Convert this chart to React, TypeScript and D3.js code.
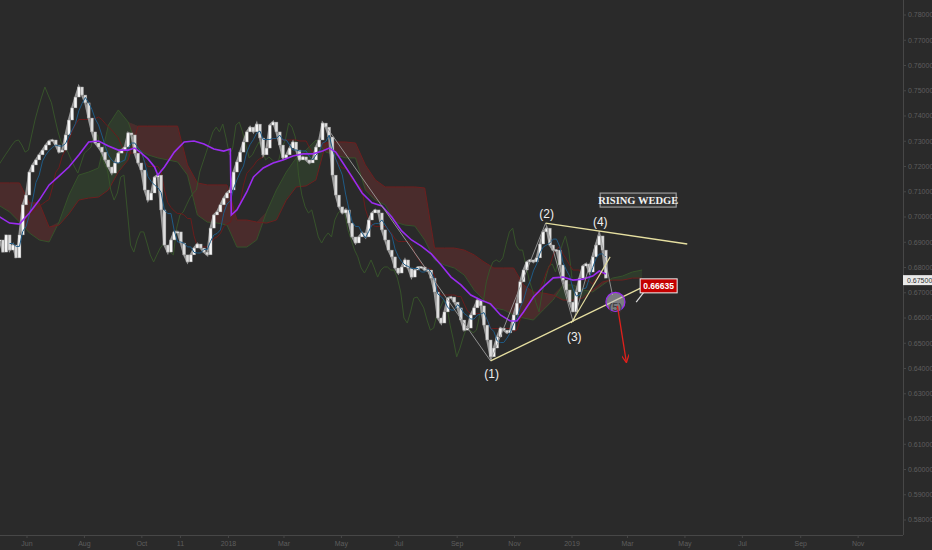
import * as d3 from "d3";

// bars every 3.5 days starting early May 2017
const barStart = new Date(2017, 4, 3);
const barHours = 84;

const closes = [
  0.6909, 0.6861, 0.6929, 0.6869, 0.6889, 0.6838, 0.6929, 0.7048, 0.7087, 0.7178,
  0.7206, 0.7226, 0.7246, 0.7265, 0.7285, 0.7301, 0.7305, 0.7285, 0.7257, 0.7265,
  0.7325, 0.7384, 0.7432, 0.7475, 0.7515, 0.7483, 0.7452, 0.7392, 0.7337, 0.7293,
  0.7277, 0.7257, 0.7226, 0.7198, 0.7174, 0.7214, 0.7253, 0.7265, 0.7277, 0.7333,
  0.7325, 0.7253, 0.7214, 0.7186, 0.7107, 0.7067, 0.7095, 0.7158, 0.7166, 0.7028,
  0.6889, 0.6861, 0.6909, 0.6941, 0.6941, 0.6897, 0.685, 0.6822, 0.685, 0.6877,
  0.6893, 0.6877, 0.6861, 0.685, 0.6956, 0.7008, 0.702, 0.7048, 0.7075, 0.7095,
  0.7107, 0.7178, 0.7218, 0.7257, 0.7297, 0.7337, 0.7356, 0.7337, 0.7368, 0.7313,
  0.7246, 0.7273, 0.7364, 0.7376, 0.7337, 0.7285, 0.7234, 0.7246, 0.7273, 0.7297,
  0.7265, 0.7226, 0.7238, 0.7226, 0.7214, 0.7226, 0.7277, 0.7305, 0.7372, 0.7356,
  0.7317, 0.7166, 0.7087, 0.704, 0.7016, 0.7028, 0.6976, 0.6921, 0.6897, 0.6921,
  0.6937, 0.6921, 0.6988, 0.7016, 0.7028, 0.7016, 0.6949, 0.6909, 0.6869, 0.6842,
  0.6798, 0.6778, 0.6802, 0.683, 0.6798, 0.6762, 0.679, 0.6802, 0.6802, 0.679,
  0.679, 0.6758, 0.6703, 0.66, 0.658, 0.6624, 0.6679, 0.6683, 0.6663, 0.664,
  0.6592, 0.6552, 0.656, 0.6612, 0.664, 0.6671, 0.6648, 0.6572, 0.6513, 0.6446,
  0.6481, 0.6525, 0.656, 0.6552, 0.6541, 0.6552, 0.6612, 0.6659, 0.6743, 0.679,
  0.6822, 0.683, 0.6822, 0.6838, 0.6893, 0.6941, 0.6956, 0.6889, 0.6869, 0.6869,
  0.681, 0.675, 0.6711, 0.6663, 0.6624, 0.6703, 0.6758, 0.6806, 0.6814, 0.6782,
  0.6842, 0.6889, 0.6925, 0.6869, 0.6758,
];

// purple moving average, read at bar positions
const purpleIdx = [
  0, 3, 6, 9, 12, 15, 18, 21, 24, 27, 30, 33, 36, 39, 41, 43, 45, 47, 48, 50,
  53, 56, 59, 62, 65, 68, 70, 70.3, 72, 75, 77, 80, 83, 86, 89, 92, 95, 98, 100, 102,
  104, 107, 110, 113, 116, 119, 122, 125, 128, 131, 134, 137, 140, 143, 146, 149, 152, 155, 157, 159,
  162, 165, 168, 171, 174, 177, 180, 182, 184,
];
const purpleVal = [
  0.7, 0.6976, 0.6972, 0.7016, 0.7067, 0.7127, 0.7162, 0.7198, 0.7246, 0.7297,
  0.7301, 0.7281, 0.7265, 0.7265, 0.7273, 0.7253, 0.723, 0.7198, 0.7166, 0.7198,
  0.7257, 0.7297, 0.7301, 0.7289, 0.7269, 0.7261, 0.7269, 0.7008, 0.7028, 0.7099,
  0.7158, 0.7194, 0.7214, 0.7226, 0.7242, 0.725, 0.725, 0.7261, 0.7273, 0.7257,
  0.7218, 0.7158, 0.7095, 0.7056, 0.7044, 0.7, 0.6945, 0.6909, 0.6885, 0.6854,
  0.681, 0.6762, 0.6731, 0.6691, 0.6671, 0.6656, 0.6612, 0.6588, 0.6588, 0.6624,
  0.6683, 0.6723, 0.6759, 0.6762, 0.675, 0.6754, 0.6766, 0.6786, 0.6774,
];

// ichimoku cloud spans, one value every 3 bars (extends past last bar)
const cloudStep = 3;
const spanA = [
  0.7044, 0.702, 0.698, 0.6937, 0.6909, 0.6901, 0.698, 0.7087, 0.7166, 0.7178,
  0.7194, 0.7364, 0.7424, 0.7376, 0.7265, 0.7246, 0.7234, 0.7226, 0.7218, 0.7166,
  0.7008, 0.698, 0.6976, 0.6968, 0.6881, 0.6881, 0.6909, 0.702, 0.7107, 0.7178,
  0.7234, 0.7265, 0.7305, 0.7257, 0.7246, 0.7234, 0.7234, 0.7107, 0.7067, 0.7048,
  0.698, 0.6968, 0.6964, 0.6909, 0.683, 0.681, 0.6798, 0.677, 0.6711, 0.6671,
  0.664, 0.6632, 0.6612, 0.66, 0.6592, 0.6632, 0.6671, 0.6731, 0.6731, 0.6711,
  0.6703, 0.6731, 0.6758, 0.6766, 0.6782, 0.679,
];
const spanB = [
  0.7135, 0.7135, 0.7135, 0.7056, 0.7056, 0.696, 0.6968, 0.7012, 0.7067, 0.7075,
  0.7079, 0.7107, 0.7178, 0.7226, 0.736, 0.736, 0.736, 0.736, 0.736, 0.7206,
  0.7135, 0.7127, 0.7127, 0.7127, 0.6988, 0.6988, 0.698, 0.6976, 0.6988, 0.7067,
  0.7119, 0.7123, 0.7147, 0.7293, 0.7297, 0.7297, 0.7293, 0.7206, 0.7147, 0.7119,
  0.7119, 0.7119, 0.7119, 0.7115, 0.6877, 0.6877, 0.6877, 0.6869, 0.685, 0.6822,
  0.6798, 0.6798, 0.6798, 0.6731, 0.6703, 0.6699, 0.6691, 0.6671, 0.6671, 0.6679,
  0.6711, 0.6743, 0.675, 0.675, 0.6758, 0.6758,
];

const tickDates = [
  new Date(2017, 5, 1), new Date(2017, 7, 1), new Date(2017, 9, 1), new Date(2017, 10, 11),
  new Date(2018, 0, 1), new Date(2018, 2, 1), new Date(2018, 4, 1), new Date(2018, 6, 1),
  new Date(2018, 8, 1), new Date(2018, 10, 1), new Date(2019, 0, 1), new Date(2019, 2, 1),
  new Date(2019, 4, 1), new Date(2019, 6, 1), new Date(2019, 8, 1), new Date(2019, 10, 1),
];
const tickLabels = ["Jun", "Aug", "Oct", "11", "2018", "Mar", "May", "Jul", "Sep", "Nov", "2019", "Mar", "May", "Jul", "Sep", "Nov"];
const priceTicks = [0.58, 0.59, 0.6, 0.61, 0.62, 0.63, 0.64, 0.65, 0.66, 0.67, 0.68, 0.69, 0.7, 0.71, 0.72, 0.73, 0.74, 0.75, 0.76, 0.77, 0.78];
const lastPrice = 0.675;

// annotations in [bar index, price]
const trendStart: [number, number] = [99, 0.736];
const wavePts: [number, number][] = [[149, 0.643], [165.7, 0.6976], [174.1, 0.6584], [182, 0.6945]];
const waveLabels = ["(1)", "(2)", "(3)", "(4)"];
const wave5: [number, number] = [186.9, 0.66635];
const wave5End: [number, number] = [186, 0.6691];
const upperWedgeEnd: [number, number] = [208.7, 0.6893];
const lowerWedgeEnd: [number, number] = [194.7, 0.6719];
const innerLine: [number, number][] = [[173.5, 0.658], [185.3, 0.6842]];
const arrowLine: [number, number][] = [[187.5, 0.6648], [190.2, 0.6426]];
const pointerLine: [number, number][] = [[193.2, 0.6663], [195.6, 0.6703]];
const targetBox: [number, number] = [194.4, 0.6755];
const wedgeBox: [number, number] = [193.8, 0.7067];

const W = 932;
const H = 550;
const PR = 903;
const PB = 535;

export default function App() {
  const x = d3.scaleTime().domain([new Date(2017, 5, 1), new Date(2019, 0, 1)]).range([27, 572]);
  const y = d3.scaleLinear().domain([0.58, 0.78]).range([520, 15]);
  const barDate = (i: number) => new Date(barStart.getTime() + i * barHours * 3600e3);
  const bx = (i: number) => x(barDate(i));
  const pt = (p: [number, number]) => [bx(p[0]), y(p[1])] as [number, number];

  const bars = closes.map((c, i) => {
    const o = i === 0 ? c : closes[i - 1];
    return { i, o, c, hi: Math.max(o, c), lo: Math.min(o, c) };
  });

  const midLine = (n: number) =>
    bars.slice(n - 1).map((b) => {
      const win = bars.slice(b.i - n + 1, b.i + 1);
      return [bx(b.i), y(((d3.max(win, (d) => d.hi) as number) + (d3.min(win, (d) => d.lo) as number)) / 2)] as [number, number];
    });
  const tenkan = midLine(4);
  const kijun = midLine(10);

  const line = d3.line();
  const chikou = closes.map((c, i) => [x(new Date(barDate(i).getTime() - 36 * 864e5)), y(c)] as [number, number]);
  const purple = purpleIdx.map((i, k) => [bx(i), y(purpleVal[k])] as [number, number]);
  const closePath = closes.map((c, i) => [bx(i), y(c)] as [number, number]);

  const cloud = spanA.map((a, k) => ({ k, a, b: spanB[k] }));
  const cx = (d: { k: number }) => bx(d.k * cloudStep);
  const greenArea = d3.area<(typeof cloud)[0]>().x(cx).y0((d) => y(d.b)).y1((d) => y(Math.max(d.a, d.b)));
  const redArea = d3.area<(typeof cloud)[0]>().x(cx).y0((d) => y(d.a)).y1((d) => y(Math.max(d.a, d.b)));
  const lineA = d3.line<(typeof cloud)[0]>().x(cx).y((d) => y(d.a));
  const lineB = d3.line<(typeof cloud)[0]>().x(cx).y((d) => y(d.b));

  const w1 = pt(wavePts[0]);
  const w2 = pt(wavePts[1]);
  const w3 = pt(wavePts[2]);
  const w4 = pt(wavePts[3]);
  const w5 = pt(wave5);
  const tb = pt(targetBox);
  const wb = pt(wedgeBox);
  const labelDy = [17, -5, 19, -5];

  const font = "'Liberation Sans', Arial, sans-serif";

  return (
    <>
      <style>{`body{margin:0;background:#2a2a2a;}`}</style>
      <svg width={W} height={H} style={{ display: "block", background: "#2a2a2a" }}>
        <defs>
          <clipPath id="plot">
            <rect x={0} y={0} width={PR} height={PB} />
          </clipPath>
          <marker id="arrow" viewBox="0 0 10 10" refX="9" refY="5" markerWidth="6" markerHeight="6" orient="auto">
            <path d="M0,0 L10,5 L0,10" fill="none" stroke="#e0201c" strokeWidth="1.6" />
          </marker>
        </defs>

        <g clipPath="url(#plot)">
          {/* cloud */}
          <path d={greenArea(cloud) ?? ""} fill="#2f3b2c" />
          <path d={redArea(cloud) ?? ""} fill="#4a2c2c" />
          <path d={lineA(cloud) ?? ""} fill="none" stroke="#36522a" strokeWidth={1} />
          <path d={lineB(cloud) ?? ""} fill="none" stroke="#6d1f1f" strokeWidth={1} />

          {/* lagging span */}
          <path d={line(chikou) ?? ""} fill="none" stroke="#37532a" strokeWidth={1} />
          {/* base line */}
          <path d={line(kijun) ?? ""} fill="none" stroke="#6a1c1c" strokeWidth={1} />

          {/* candles */}
          <path d={line(closePath) ?? ""} fill="none" stroke="#9a9a9a" strokeWidth={2.2} />
          {bars.map((b) => {
            const top = y(b.hi);
            const h = Math.max(1.2, y(b.lo) - top);
            return (
              <rect
                key={b.i}
                x={bx(b.i) - 1.5}
                y={top}
                width={3}
                height={h}
                fill={b.c >= b.o ? "#f6f6f6" : "#dcdcdc"}
                stroke="#8a8a8a"
                strokeWidth={0.4}
              />
            );
          })}

          {/* conversion line */}
          <path d={line(tenkan) ?? ""} fill="none" stroke="#1f5b86" strokeWidth={1} />
          {/* moving average */}
          <path d={line(purple) ?? ""} fill="none" stroke="#9b2cf0" strokeWidth={1.6} />

          {/* trend / wave lines */}
          <path d={line([pt(trendStart), w1]) ?? ""} stroke="#9c9c9c" strokeWidth={0.9} fill="none" />
          <path d={line([w1, w2, w3, w4, pt(wave5End)]) ?? ""} stroke="#9c9c9c" strokeWidth={0.9} fill="none" />
          <path d={line([w2, pt(upperWedgeEnd)]) ?? ""} stroke="#e6dfa0" strokeWidth={1.3} fill="none" />
          <path d={line([w1, pt(lowerWedgeEnd)]) ?? ""} stroke="#e6dfa0" strokeWidth={1.3} fill="none" />
          <path d={line(innerLine.map(pt)) ?? ""} stroke="#e6dfa0" strokeWidth={1.1} fill="none" />

          <circle cx={w5[0]} cy={w5[1]} r={9.5} fill="rgba(190,190,200,0.55)" stroke="#9b2cf0" strokeWidth={1.2} />
          <text x={w5[0]} y={w5[1] + 9} textAnchor="middle" fontFamily={font} fontSize={11} fill="#3a3a3a">(5)</text>
          <path d={line(arrowLine.map(pt)) ?? ""} stroke="#e0201c" strokeWidth={1.3} fill="none" markerEnd="url(#arrow)" />
          <path d={line(pointerLine.map(pt)) ?? ""} stroke="#dddddd" strokeWidth={1.2} fill="none" />

          {wavePts.map((p, k) => {
            const [px, py] = pt(p);
            return (
              <text key={k} x={px + 1} y={py + labelDy[k]} textAnchor="middle" fontFamily={font} fontSize={12} fill="#f0f0f0">
                {waveLabels[k]}
              </text>
            );
          })}

          {/* target label */}
          <rect x={tb[0]} y={tb[1]} width={37} height={14} fill="#c40000" stroke="#f2f2f2" strokeWidth={1} />
          <text x={tb[0] + 18.5} y={tb[1] + 10} textAnchor="middle" fontFamily={font} fontSize={8.5} fontWeight="bold" fill="#ffffff">
            0.66635
          </text>

          {/* pattern label */}
          <rect x={wb[0] - 38} y={wb[1] - 7} width={76} height={14} fill="#333333" stroke="#9a9a9a" strokeWidth={1.2} />
          <text x={wb[0]} y={wb[1] + 4} textAnchor="middle" fontFamily="'Liberation Serif', 'DejaVu Serif', serif" fontSize={10.5} fontWeight="bold" fill="#f2f2f2">
            RISING WEDGE
          </text>
        </g>

        {/* axes */}
        <line x1={PR + 0.5} y1={0} x2={PR + 0.5} y2={PB} stroke="#474747" />
        <line x1={0} y1={PB + 0.5} x2={PR} y2={PB + 0.5} stroke="#474747" />
        {priceTicks.map((v) => (
          <g key={v}>
            <line x1={PR} x2={PR + 3} y1={y(v)} y2={y(v)} stroke="#474747" />
            <text x={PR + 5} y={y(v)} dy="0.35em" fontFamily={font} fontSize={7} fill="#5e5e5e">
              {v.toFixed(5)}
            </text>
          </g>
        ))}
        <rect x={PR} y={y(lastPrice) - 5} width={W - PR} height={10} fill="#e9e9e9" />
        <text x={PR + 4} y={y(lastPrice)} dy="0.35em" fontFamily={font} fontSize={7} fill="#333333">
          {lastPrice.toFixed(5)}
        </text>
        {tickDates.map((d, k) => (
          <g key={k}>
            <line x1={x(d)} x2={x(d)} y1={PB} y2={PB + 3} stroke="#474747" />
            <text x={x(d)} y={PB + 11} textAnchor="middle" fontFamily={font} fontSize={7} fill="#5e5e5e">
              {tickLabels[k]}
            </text>
          </g>
        ))}
      </svg>
    </>
  );
}
